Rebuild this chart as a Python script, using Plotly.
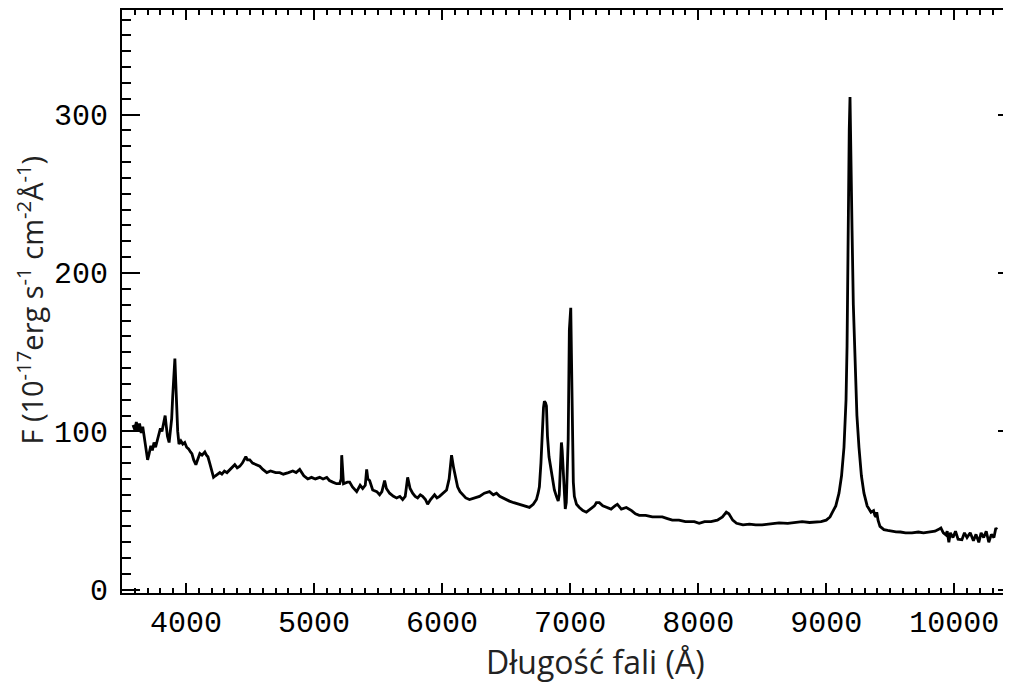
import plotly.graph_objects as go

# Wavelength (Angstrom) and flux (1e-17 erg s^-1 cm^-2 A^-1)
wavelength = [
    3586, 3600, 3612, 3625, 3637, 3650, 3662, 3675, 3690, 3700, 3712, 3725, 3737, 3750, 3762,
    3775, 3787, 3800, 3812, 3825, 3837, 3845, 3855, 3868, 3878, 3888, 3896, 3905, 3913, 3920,
    3927, 3935, 3945, 3960, 3975, 3990, 4005, 4020, 4035, 4046, 4060, 4077, 4090, 4108, 4125,
    4147, 4160, 4171, 4185, 4200, 4215, 4230, 4250, 4264, 4280, 4300, 4320, 4342, 4360, 4381,
    4400, 4420, 4440, 4467, 4480, 4498, 4520, 4545, 4576, 4600, 4631, 4660, 4700, 4732, 4760,
    4800, 4834, 4860, 4888, 4920, 4951, 4980, 5010, 5044, 5070, 5099, 5120, 5146, 5175, 5200,
    5212, 5216, 5222, 5230, 5260, 5278, 5300, 5333, 5360, 5380, 5400, 5411, 5420, 5434, 5458,
    5490, 5512, 5530, 5551, 5565, 5590, 5620, 5645, 5670, 5692, 5712, 5731, 5750, 5770, 5790,
    5809, 5830, 5848, 5870, 5887, 5910, 5941, 5960, 5980, 6010, 6035, 6055, 6074, 6090, 6105,
    6121, 6140, 6160, 6185, 6214, 6250, 6292, 6330, 6370, 6400, 6425, 6450, 6472, 6500, 6526,
    6560, 6604, 6640, 6682, 6712, 6737, 6750, 6760, 6772, 6783, 6792, 6799, 6808, 6815, 6823,
    6835, 6853, 6865, 6877, 6893, 6907, 6915, 6922, 6932, 6938, 6946, 6955, 6962, 6970, 6977,
    6985, 6994, 7000, 7005, 7010, 7018, 7025, 7033, 7050, 7072, 7100, 7127, 7160, 7190, 7205,
    7228, 7255, 7283, 7320, 7350, 7369, 7400, 7439, 7480, 7510, 7540, 7590, 7642, 7690, 7720,
    7760, 7798, 7850, 7900, 7930, 7970, 8008, 8050, 8100, 8150, 8190, 8220, 8240, 8270, 8300,
    8350, 8400, 8450, 8500, 8550, 8600, 8632, 8700, 8760, 8812, 8870, 8920, 8960, 9000, 9030,
    9046, 9075, 9100, 9120, 9139, 9155, 9163, 9171, 9180, 9186, 9194, 9202, 9212, 9225, 9240,
    9256, 9275, 9295, 9320, 9350, 9370, 9380, 9389, 9395, 9405, 9420, 9451, 9480, 9510, 9545,
    9580, 9620, 9670, 9720, 9760, 9802, 9850, 9875, 9896, 9915, 9935, 9945, 9958, 9970, 9990,
    10010, 10030, 10060, 10080, 10100, 10125, 10150, 10170, 10192, 10210, 10230, 10250, 10270,
    10290, 10310, 10325, 10333,
]
flux = [
    104, 101, 106, 100, 105, 99, 103, 95, 88, 82, 86, 91, 88, 93, 90,
    94, 98, 102, 100, 106, 110, 104, 97, 93, 100, 108, 122, 135, 146, 131,
    112, 100, 92, 94, 92, 93, 90, 89, 87, 86, 82, 79, 82, 86, 85,
    87, 85, 84, 80, 75, 71, 72, 73, 74, 73, 75, 74, 76, 77, 79,
    77, 78, 80, 84, 82, 82, 80, 79, 78, 76, 74, 75, 74, 74, 73,
    74, 75, 74, 76, 72, 70, 71, 70, 71, 70, 71, 69, 68, 67, 67,
    70, 85, 72, 67, 68, 68, 65, 62, 66, 64, 66, 76, 70, 69, 63,
    62, 60, 62, 69, 64, 61, 59, 58, 59, 57, 59, 71, 64, 61, 59,
    58, 60, 59, 57, 54, 57, 60, 58, 59, 61, 63, 70, 85, 77, 70,
    65, 62, 60, 58, 57, 58, 59, 61, 62, 60, 61, 59, 58, 57, 56,
    55, 54, 53, 52, 54, 57, 61, 65, 80, 101, 115, 119, 118, 116, 97,
    84, 74, 67, 63, 59, 56, 60, 71, 93, 88, 75, 60, 51, 55, 70,
    95, 164, 176, 178, 150, 86, 68, 59, 54, 52, 50, 49, 51, 53, 55,
    55, 53, 52, 51, 53, 54, 51, 52, 50, 48, 47, 47, 46, 46, 46,
    45, 44, 44, 43, 43, 43, 42, 43, 43, 44, 46, 49, 48, 44, 42,
    41, 41.5, 41, 41, 41.5, 42, 42.3, 42, 42.5, 43, 42.5, 43, 43, 44, 46,
    48.6, 53, 61, 72, 90, 120, 154, 238, 290, 311, 280, 227, 180, 143, 110,
    90, 72, 61, 53, 49, 50, 47, 46, 49, 44, 40, 38, 37.5, 37, 36.6,
    36.5, 36, 36, 36.5, 36, 36.5, 37, 38, 39, 36, 34.7, 37, 30, 36, 33,
    37, 32, 31.6, 36, 33, 36, 31, 35, 30, 36, 33, 37, 30,
    35, 33, 39, 38,
]

x_major = [4000, 5000, 6000, 7000, 8000, 9000, 10000]
x_labels = ["4000", "5000", "6000", "7000", "8000", "9000", "10000"]
y_major = [0, 100, 200, 300]
y_labels = ["0", "100", "200", "300"]
x_range = [3500, 10420]
y_range = [-2, 366]

tick_font = dict(family="Liberation Mono", size=30, color="black")

fig = go.Figure()
fig.add_trace(go.Scatter(x=wavelength, y=flux, mode="lines",
                         line=dict(color="black", width=2.8), showlegend=False,
                         hoverinfo="skip"))
# invisible trace to carry the mirrored (top/right) axes
fig.add_trace(go.Scatter(x=[x_range[0]], y=[y_range[0]], xaxis="x2", yaxis="y2",
                         mode="markers", marker=dict(opacity=0), showlegend=False,
                         hoverinfo="skip"))

axis_common = dict(showgrid=False, zeroline=False, showline=True, linecolor="black",
                   linewidth=2, ticks="inside", tickcolor="black", tickwidth=2,
                   automargin=False)

fig.update_layout(
    width=1003, height=676,
    paper_bgcolor="white", plot_bgcolor="white",
    margin=dict(l=114, r=3, t=2, b=91),
    xaxis=dict(**axis_common, range=x_range, tickvals=x_major, ticktext=x_labels,
               ticklen=10, tickfont=tick_font, ticklabelstandoff=1,
               minor=dict(dtick=100, tick0=0, ticks="inside", ticklen=5,
                          tickcolor="black", tickwidth=2)),
    xaxis2=dict(**axis_common, range=x_range, overlaying="x", side="top",
                tickvals=x_major, ticklen=10, showticklabels=False,
                minor=dict(dtick=100, tick0=0, ticks="inside", ticklen=5,
                           tickcolor="black", tickwidth=2)),
    yaxis=dict(**axis_common, range=y_range, tickvals=y_major, ticktext=y_labels,
               ticklen=18, tickfont=tick_font, ticklabelstandoff=6,
               minor=dict(dtick=10, tick0=0, ticks="inside", ticklen=9,
                          tickcolor="black", tickwidth=2)),
    yaxis2=dict(**axis_common, range=y_range, overlaying="y", side="right",
                tickvals=y_major, ticklen=10, showticklabels=False,
                minor=dict(dtick=10, tick0=0, ticks="inside", ticklen=2,
                           tickcolor="black", tickwidth=2)),
    annotations=[
        dict(text="Długość fali (Å)", xref="paper", yref="paper", x=0.534, y=-0.1175,
             xanchor="center", yanchor="middle", showarrow=False,
             font=dict(family="Open Sans", size=32, color="#222222")),
        dict(text="F (10<sup>-17</sup>erg s<sup>-1</sup> cm<sup>-2</sup>Å<sup>-1</sup>)",
             xref="paper", yref="paper", x=-0.104, y=0.503, textangle=-90,
             xanchor="center", yanchor="middle", showarrow=False,
             font=dict(family="Open Sans", size=29, color="#222222")),
    ],
)

fig.write_html("out.html")
